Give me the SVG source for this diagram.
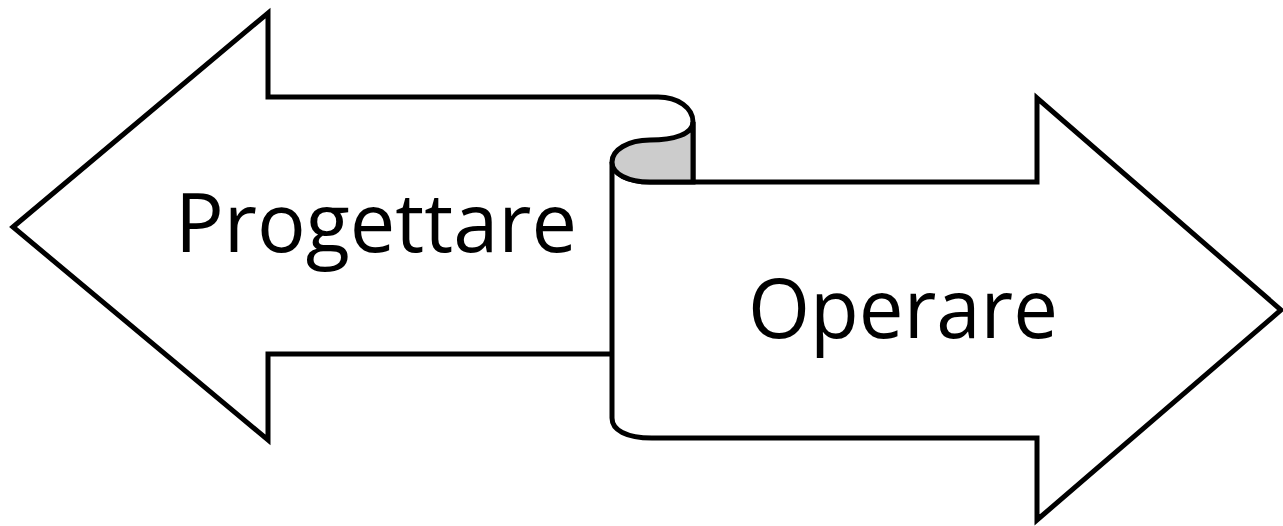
<svg xmlns="http://www.w3.org/2000/svg" width="1283" height="526" viewBox="0 0 1283 526">
<style>
.shape{fill:#fff;stroke:#000;stroke-width:5;stroke-linejoin:miter}
.curl{fill:#ccc;stroke:#000;stroke-width:5}
.lbl{font-family:"Open Sans","Liberation Sans",sans-serif;font-size:83px;fill:#000}
</style>
<rect width="1283" height="526" fill="#fff"/>
<g id="progettare">
<path class="shape" d="M13,227 L268,13 L268,97 L658,97 C678,97 693,108 693,122 L693,354 L268,354 L268,440 Z"/>
<text class="lbl" x="175" y="252" textLength="402" lengthAdjust="spacingAndGlyphs">Progettare</text>
</g>
<g id="operare">
<path class="shape" d="M612,162 L612,418 C612,430 626,438 652,438 L1037,438 L1037,520 L1281,310 L1037,98 L1037,182 L650,182 C628,182 612,174 612,162 Z"/>
<path class="curl" d="M612,162 C612,150 628,140 650,140 C674,140 693,134 693,122 L693,182 L650,182 C628,182 612,174 612,162 Z"/>
<text class="lbl" x="748" y="338" textLength="310" lengthAdjust="spacingAndGlyphs">Operare</text>
</g>
<g id="connectors"/>
</svg>
